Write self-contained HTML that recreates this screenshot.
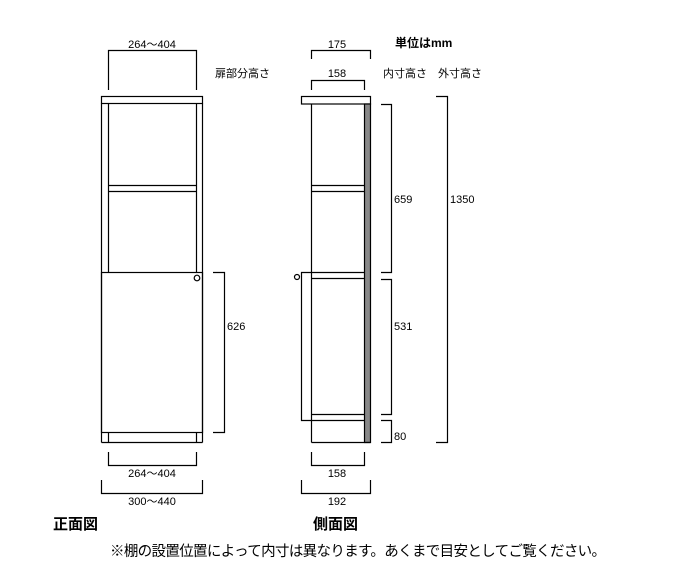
<!DOCTYPE html>
<html><head><meta charset="utf-8"><style>
html,body{margin:0;padding:0;background:#fff;}
svg{display:block;}
text{font-family:"Liberation Sans","Noto Sans CJK JP",sans-serif;fill:#000;}
</style></head><body>
<svg width="700" height="571" viewBox="0 0 700 571" xmlns="http://www.w3.org/2000/svg">
<g fill="none" stroke="#000" stroke-width="1.2">
<!-- Front view -->
<rect x="101.5" y="96.5" width="101" height="7"/>
<line x1="101.5" y1="103.5" x2="101.5" y2="442.5"/>
<line x1="202.5" y1="103.5" x2="202.5" y2="442.5"/>
<line x1="108.5" y1="103.5" x2="108.5" y2="272"/>
<line x1="196.5" y1="103.5" x2="196.5" y2="272"/>
<line x1="108.5" y1="185.5" x2="196.5" y2="185.5"/>
<line x1="108.5" y1="191.5" x2="196.5" y2="191.5"/>
<rect x="101.5" y="272.5" width="101" height="160"/>
<circle cx="197" cy="278" r="2.8"/>
<line x1="101.5" y1="442.5" x2="202.5" y2="442.5"/>
<line x1="108.5" y1="432.5" x2="108.5" y2="442.5"/>
<line x1="196.5" y1="432.5" x2="196.5" y2="442.5"/>
<!-- front dims -->
<polyline points="108.5,90 108.5,50.5 196.5,50.5 196.5,90"/>
<polyline points="213,272.5 224.5,272.5 224.5,432.5 213,432.5"/>
<polyline points="108.5,452 108.5,465.5 196.5,465.5 196.5,452"/>
<polyline points="101.5,480 101.5,493.5 202.5,493.5 202.5,480"/>
<!-- Side view -->
<rect x="301.5" y="96.5" width="69" height="7.5"/>
<line x1="311.5" y1="104" x2="311.5" y2="442.5"/>
<rect x="364.5" y="104" width="6" height="338.5" fill="#888"/>
<line x1="311.5" y1="442.5" x2="370.5" y2="442.5"/>
<line x1="311.5" y1="185.5" x2="364.5" y2="185.5"/>
<line x1="311.5" y1="191.5" x2="364.5" y2="191.5"/>
<line x1="311.5" y1="272.5" x2="364.5" y2="272.5"/>
<line x1="311.5" y1="278.5" x2="364.5" y2="278.5"/>
<line x1="311.5" y1="414.5" x2="364.5" y2="414.5"/>
<line x1="311.5" y1="420.5" x2="364.5" y2="420.5"/>
<polyline points="311.5,272.5 301.5,272.5 301.5,420.5 311.5,420.5"/>
<circle cx="297" cy="277" r="2.5"/>
<!-- side dims -->
<polyline points="311.5,59 311.5,50.5 370.5,50.5 370.5,59"/>
<polyline points="311.5,90 311.5,80.5 364.5,80.5 364.5,90"/>
<polyline points="381,104.5 391.5,104.5 391.5,272.5 381,272.5"/>
<polyline points="381,279.5 391.5,279.5 391.5,414.5 381,414.5"/>
<polyline points="381,420.5 391.5,420.5 391.5,442.5 381,442.5"/>
<polyline points="436,96.5 447.5,96.5 447.5,442.5 436,442.5"/>
<polyline points="311.5,452 311.5,465.5 364.5,465.5 364.5,452"/>
<polyline points="301.5,480 301.5,493.5 370.5,493.5 370.5,480"/>
</g>
<g font-size="11">
<text x="152" y="48" text-anchor="middle">264〜404</text>
<text x="215" y="77">扉部分高さ</text>
<text x="227" y="330">626</text>
<text x="152" y="477" text-anchor="middle">264〜404</text>
<text x="152" y="505" text-anchor="middle">300〜440</text>
<text x="337" y="48" text-anchor="middle">175</text>
<text x="337" y="77" text-anchor="middle">158</text>
<text x="383" y="77">内寸高さ</text>
<text x="438" y="77">外寸高さ</text>
<text x="394" y="203">659</text>
<text x="394" y="330">531</text>
<text x="394" y="440">80</text>
<text x="450" y="203">1350</text>
<text x="337" y="477" text-anchor="middle">158</text>
<text x="337" y="505" text-anchor="middle">192</text>
</g>
<text x="395" y="47" font-size="12" font-weight="bold">単位はmm</text>
<text x="53" y="529" font-size="15" font-weight="bold">正面図</text>
<text x="313" y="529" font-size="15" font-weight="bold">側面図</text>
<text x="110" y="556" font-size="14.5" textLength="496">※棚の設置位置によって内寸は異なります。あくまで目安としてご覧ください。</text>
</svg>
</body></html>
